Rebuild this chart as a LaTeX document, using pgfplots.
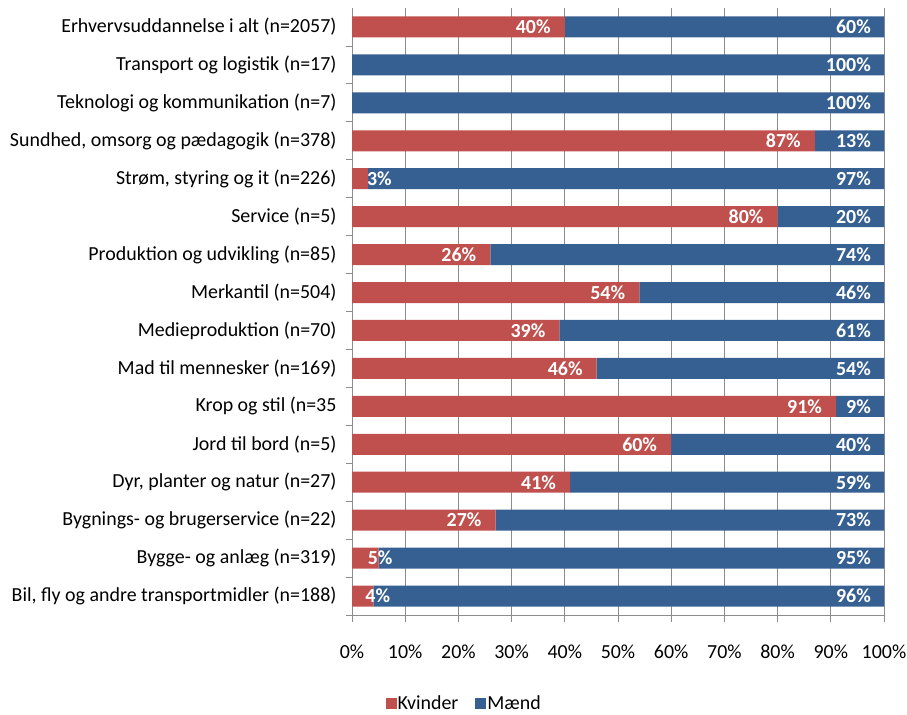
\documentclass[border=0pt]{standalone}
\usepackage{pgfplots}
\pgfplotsset{compat=1.18}
\usepackage{pgfplotstable}
\usepackage{fontspec}
\setmainfont{Carlito}
\definecolor{kred}{RGB}{192,80,77}
\definecolor{mblue}{RGB}{54,96,146}
\definecolor{gridgray}{RGB}{140,140,140}
\pgfplotstableread{
y k m ks ms
0 40 60 -14 -13
1 0 100 -13 -13
2 0 100 -13 -13
3 87 13 -14 -13
4 3 97 24 -13
5 80 20 -14 -13
6 26 74 -14 -13
7 54 46 -14 -13
8 39 61 -14 -13
9 46 54 -14 -13
10 91 9 -14 -13
11 60 40 -14 -13
12 41 59 -14 -13
13 27 73 -14 -13
14 5 95 14 -13
15 4 96 17 -13
}\data
\begin{document}
\begin{tikzpicture}[font=\fontsize{20}{24}\selectfont]
\path[use as bounding box] (0,0) rectangle (907bp,715bp);
\begin{axis}[
  at={(352bp,100bp)}, anchor=south west,
  scale only axis, width=532bp, height=607bp,
  /pgf/number format/assume math mode=true,
  xbar stacked, bar width=21bp,
  xmin=0, xmax=100, ymin=-0.5, ymax=15.5, y dir=reverse,
  axis x line=bottom, axis y line=left,
  axis line style={-, draw=gridgray, line width=0.8bp},
  xtick={0,10,...,100},
  xticklabels={0\%,10\%,20\%,30\%,40\%,50\%,60\%,70\%,80\%,90\%,100\%},
  xticklabel style={yshift=-19bp},
  ytick={0,...,15},
  yticklabels={Erhvervsuddannelse i alt (n=2057),Transport og logistik (n=17),Teknologi og kommunikation (n=7),{Sundhed, omsorg og pædagogik (n=378)},{Strøm, styring og it (n=226)},Service (n=5),Produktion og udvikling (n=85),Merkantil (n=504),Medieproduktion (n=70),Mad til mennesker (n=169),Krop og stil (n=35,Jord til bord (n=5),{Dyr, planter og natur (n=27)},Bygnings- og brugerservice (n=22),Bygge- og anlæg (n=319),{Bil, fly og andre transportmidler (n=188)}},
  yticklabel style={xshift=-5bp},
  minor ytick={0.5,1.5,...,15.5},
  tick align=outside,
  major tick length=7bp, minor tick length=6bp,
  major y tick style={draw=none},
  tick style={draw=gridgray, line width=0.8bp},
  xmajorgrids, major grid style={draw=gridgray, line width=0.8bp},
  legend style={at={(0.21,-0.146)}, anchor=center, draw=none, fill=none,
    legend columns=2, /tikz/every even column/.append style={column sep=16bp},
    nodes={inner sep=1bp}},
  legend image code/.code={\fill[#1] (0bp,-5.5bp) rectangle (11bp,5.5bp);},
]
\addplot[fill=kred, draw=none,
  visualization depends on={\thisrow{k} \as \kv},
  visualization depends on={\thisrow{ks} \as \kshift},
  nodes near coords={\ifdim\kv pt>0.5pt \pgfmathprintnumber{\kv}\%\fi},
  every node near coord/.append style={anchor=east, xshift=\kv*2.66bp+\kshift*1bp, text=white, font=\fontsize{20}{24}\selectfont\bfseries, inner sep=0pt}
] table[x=k, y=y] {\data};
\addlegendentry{Kvinder}
\addplot[fill=mblue, draw=none,
  visualization depends on={\thisrow{m} \as \mv},
  visualization depends on={\thisrow{ms} \as \mshift},
  nodes near coords={\pgfmathprintnumber{\mv}\%},
  every node near coord/.append style={anchor=east, xshift=\mv*2.66bp+\mshift*1bp, text=white, font=\fontsize{20}{24}\selectfont\bfseries, inner sep=0pt}
] table[x=m, y=y] {\data};
\addlegendentry{Mænd}
\end{axis}
\end{tikzpicture}
\end{document}
